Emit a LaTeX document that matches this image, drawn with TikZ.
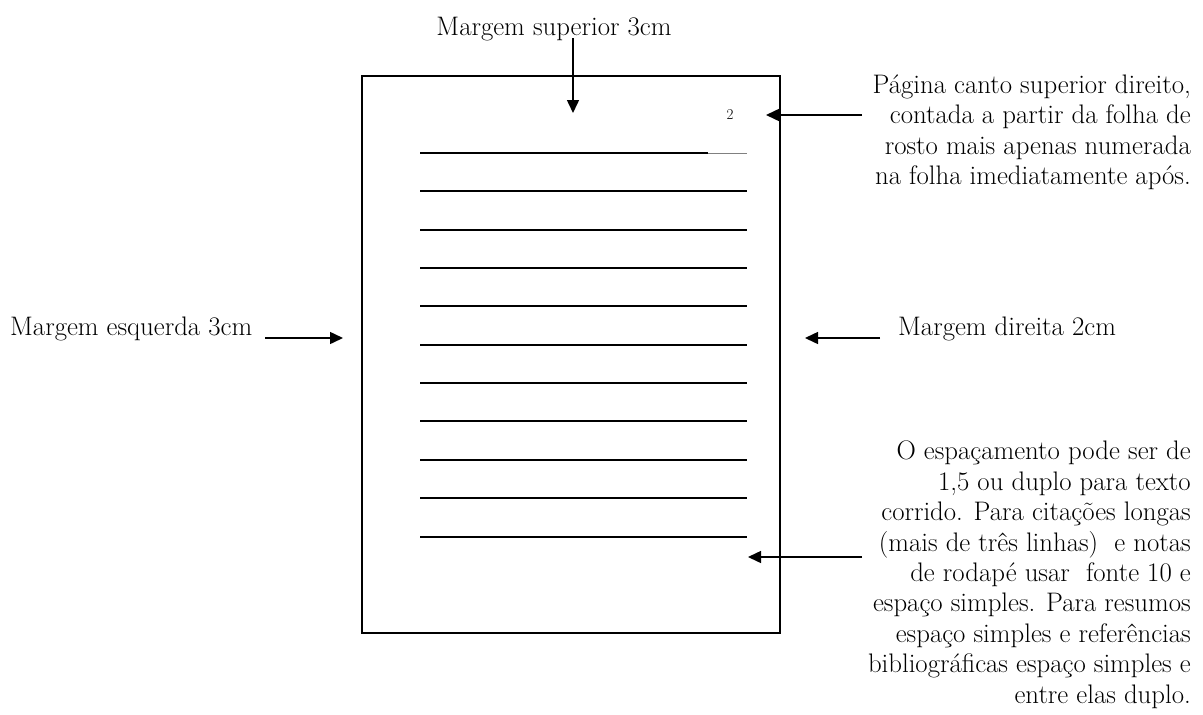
\documentclass[tikz,border=0pt]{standalone}
\usetikzlibrary{arrows.meta}
\begin{document}
\begin{tikzpicture}[x=1pt,y=-1pt,
  lbl/.style={inner sep=0pt, font=\fontsize{26.8}{30.4}\selectfont},
  blk/.style={lbl, align=right, anchor=north east},
  pagebox/.style={draw, line width=2pt, minimum width=418pt, minimum height=557pt, inner sep=0pt},
  txtline/.style={line width=1.5pt},
  arr/.style={line width=1.5pt, -{Triangle[length=13pt,width=12pt]}}]
\useasboundingbox (0,0) rectangle (1203,715);
% page
\node[pagebox] (page) at (571,354.5) {};
% text lines
\draw[txtline] (420,153) -- (708,153);
\draw[line width=0.6pt, gray] (708,153) -- (747,153);
\foreach \yy in {191,230,268,306,345,383,421,460,498,537}
  \draw[txtline] (420,\yy) -- (747,\yy);
% page number
\node[inner sep=0pt, font=\fontsize{15}{17}\selectfont] (num) at (730,115) {2};
% labels
\node[lbl, anchor=base] (top) at (554,35) {Margem superior 3cm};
\node[lbl, anchor=base west] (left) at (10,335) {Margem esquerda 3cm};
\node[lbl, anchor=base west] (right) at (898,335) {Margem direita 2cm};
\node[blk] (pgtxt) at (1191,74.5) {P\'agina canto superior direito,\\contada a partir da folha de\\rosto mais apenas numerada\\na folha imediatamente ap\'os.};
\node[blk] (esp) at (1191,441) {O espa\c{c}amento pode ser de\\1,5 ou duplo para texto\\corrido. Para cita\c{c}\~oes longas\\(mais de tr\^es linhas)\ \ e notas\\de rodap\'e usar\ \ fonte 10 e\\espa\c{c}o simples. Para resumos\\espa\c{c}o simples e refer\^encias\\bibliogr\'aficas espa\c{c}o simples e\\entre elas duplo.};
% connector end points
\coordinate (topS) at (573,38);
\coordinate (topE) at (573,113);
\coordinate (leftS) at (265,338);
\coordinate (leftE) at (343,338);
\coordinate (rightS) at (880,338);
\coordinate (rightE) at (805,338);
\coordinate (pgS) at (862,115);
\coordinate (pgE) at (766,115);
\coordinate (espS) at (862,557);
\coordinate (espE) at (748,557);
% arrows
\draw[arr] (topS) -- (topE);
\draw[arr] (leftS) -- (leftE);
\draw[arr] (rightS) -- (rightE);
\draw[arr] (pgS) -- (pgE);
\draw[arr] (espS) -- (espE);
\end{tikzpicture}
\end{document}
